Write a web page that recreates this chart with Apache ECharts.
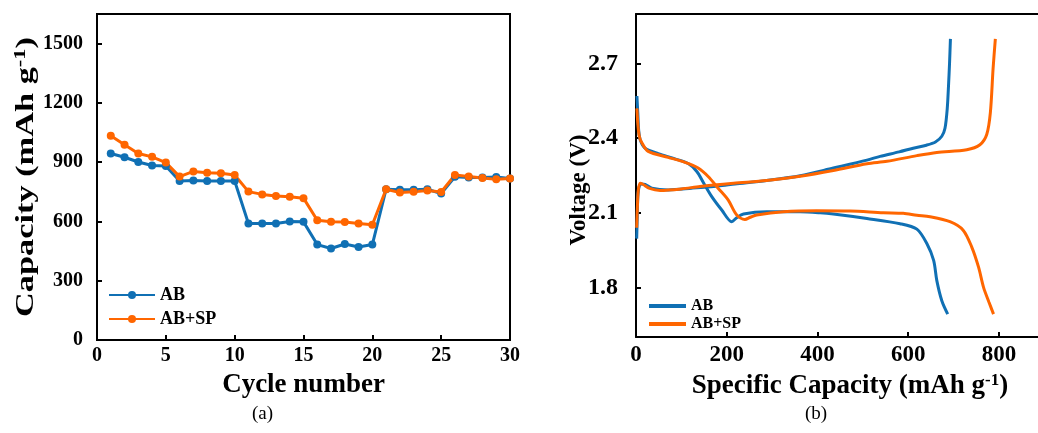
<!DOCTYPE html>
<html><head><meta charset="utf-8">
<script src="https://cdn.jsdelivr.net/npm/echarts@6/dist/echarts.min.js"></script>
<style>html,body{margin:0;padding:0;background:#fff}#c{width:1038px;height:433px}</style>
</head><body><div id="c"></div>
<script>
// ---- Panel (a): rate capability ----
const cycles = [1,2,3,4,5,6,7,8,9,10,11,12,13,14,15,16,17,18,19,20,21,22,23,24,25,26,27,28,29,30];
const abCapacity = [944,925,901,883,881,805,807,805,805,805,590,590,590,600,598,483,463,486,471,483,763,760,760,763,741,826,822,823,825,818];
const abspCapacity = [1034,988,944,927,898,827,853,847,844,835,751,737,729,725,718,606,598,597,590,583,763,746,750,757,749,835,827,820,813,818];
const capTicks = [0,300,600,900,1200,1500];
const cycleTicks = [0,5,10,15,20,25,30];

// ---- Panel (b): voltage profiles ----
const abDisX = [2,4,6,10,20,49,86,115,134,149,167,189,211,222,237,288,362,406,435,509,582,619,641,656,663,674,687];
const abDisV = [2.57,2.50,2.43,2.39,2.36,2.338,2.317,2.298,2.266,2.22,2.165,2.111,2.064,2.08,2.095,2.104,2.104,2.10,2.095,2.077,2.056,2.034,1.976,1.908,1.827,1.746,1.692];
const abChgX = [1.5,3,4,7,12,20,35,71,123,181,218,288,362,435,509,538,580,611,640,660,674,681,686,689,691,693];
const abChgV = [1.996,2.10,2.165,2.205,2.216,2.214,2.199,2.192,2.199,2.208,2.216,2.23,2.249,2.28,2.312,2.327,2.345,2.36,2.372,2.385,2.408,2.44,2.52,2.62,2.70,2.80];
const abspDisX = [2,4,7,12,27,71,108,137,159,181,203,222,240,252,266,325,398,472,545,589,619,648,692,721,740,755,766,778,788];
const abspDisV = [2.52,2.46,2.41,2.385,2.347,2.323,2.303,2.28,2.246,2.199,2.152,2.091,2.073,2.082,2.091,2.104,2.108,2.107,2.10,2.098,2.09,2.084,2.064,2.03,1.962,1.881,1.80,1.74,1.692];
const abspChgX = [1.5,3,5,9,15,30,53,100,141,215,288,362,435,509,553,619,663,729,758,773,781,787,792];
const abspChgV = [2.04,2.12,2.19,2.219,2.215,2.198,2.19,2.196,2.206,2.219,2.23,2.247,2.27,2.297,2.307,2.33,2.343,2.354,2.374,2.415,2.503,2.68,2.80];
const voltTicks = [1.8,2.1,2.4,2.7];
const specTicks = [0,200,400,600,800];

const BLUE = '#1070B4', ORANGE = '#FF6600';
const FONT = '"Liberation Serif", "Times New Roman", serif';
const zip = (xs, ys) => xs.map((x, i) => [x, ys[i]]);

const chart = echarts.init(document.getElementById('c'), null, {renderer: 'canvas'});
const axisCommon = {
  axisLine: {show: true, onZero: false, lineStyle: {color: '#000', width: 2}},
  axisTick: {show: true, inside: true, length: 5, lineStyle: {color: '#000', width: 2}},
  splitLine: {show: false}
};
chart.setOption({
  animation: false,
  grid: [
    {left: 97, right: 528, top: 14, bottom: 93, show: true, borderColor: '#000', borderWidth: 2},
    {left: 636, right: 0, top: 14, bottom: 96, show: false}
  ],
  legend: [
    {data: ['AB', 'AB+SP'], orient: 'vertical', left: 103, top: 281, itemWidth: 46, itemHeight: 10, itemGap: 6,
     textStyle: {fontFamily: FONT, fontWeight: 'bold', fontSize: 18, color: '#000'}},
    {data: ['AB ', 'AB+SP '], orient: 'vertical', left: 644, top: 293, itemWidth: 37, itemHeight: 4, itemGap: 2,
     icon: 'rect', textStyle: {fontFamily: FONT, fontWeight: 'bold', fontSize: 16, color: '#000'}}
  ],
  xAxis: [
    Object.assign({}, axisCommon, {
      gridIndex: 0, type: 'value', min: 0, max: 30, interval: 5,
      axisLabel: {customValues: cycleTicks, margin: 6, fontFamily: FONT, fontWeight: 'bold', fontSize: 20, color: '#000'},
      axisTick: Object.assign({}, axisCommon.axisTick, {customValues: cycleTicks}),
      name: 'Cycle number', nameLocation: 'middle', nameGap: 32,
      nameTextStyle: {fontFamily: FONT, fontWeight: 'bold', fontSize: 27, color: '#000'}
    }),
    Object.assign({}, axisCommon, {
      gridIndex: 1, type: 'value', min: 0, max: 886,
      axisLabel: {customValues: specTicks, margin: 7, fontFamily: FONT, fontWeight: 'bold', fontSize: 23, color: '#000'},
      axisTick: Object.assign({}, axisCommon.axisTick, {customValues: specTicks}),
      name: '{a|Specific Capacity (mAh g}{s|-1}{a|)}', nameLocation: 'middle', nameGap: 34, nameTextStyle: {
        padding: [0, 0, 0, 26],
        rich: {
          a: {fontFamily: FONT, fontWeight: 'bold', fontSize: 27, color: '#000'},
          s: {fontFamily: FONT, fontWeight: 'bold', fontSize: 17, color: '#000', verticalAlign: 'top', padding: [0,0,12,0]}
        }}
    }),
    {gridIndex: 1, type: 'value', min: 0, max: 886, position: 'top',
     axisLine: {show: true, lineStyle: {color: '#000', width: 2}}, axisTick: {show: false}, axisLabel: {show: false}, splitLine: {show: false}}
  ],
  yAxis: [
    Object.assign({}, axisCommon, {
      gridIndex: 0, type: 'value', min: 0, max: 1650,
      axisLabel: {customValues: capTicks, margin: 14, fontFamily: FONT, fontWeight: 'bold', fontSize: 20, color: '#000',
        formatter: v => String(v)},
      axisTick: Object.assign({}, axisCommon.axisTick, {customValues: capTicks})
    }),
    Object.assign({}, axisCommon, {
      gridIndex: 1, type: 'value', min: 1.6, max: 2.9,
      axisLabel: {customValues: voltTicks, margin: 18, fontFamily: FONT, fontWeight: 'bold', fontSize: 24, color: '#000',
        formatter: v => v.toFixed(1)},
      axisTick: Object.assign({}, axisCommon.axisTick, {customValues: voltTicks})
    })
  ],
  series: [
    {name: 'AB', type: 'line', xAxisIndex: 0, yAxisIndex: 0, data: zip(cycles, abCapacity),
     symbol: 'circle', symbolSize: 8, itemStyle: {color: BLUE}, lineStyle: {color: BLUE, width: 3}},
    {name: 'AB+SP', type: 'line', xAxisIndex: 0, yAxisIndex: 0, data: zip(cycles, abspCapacity),
     symbol: 'circle', symbolSize: 8, itemStyle: {color: ORANGE}, lineStyle: {color: ORANGE, width: 3}},
    {name: 'AB ', type: 'line', xAxisIndex: 1, yAxisIndex: 1, data: zip(abDisX, abDisV), smooth: 0.3,
     showSymbol: false, symbol: 'none', itemStyle: {color: BLUE}, lineStyle: {color: BLUE, width: 3}},
    {name: 'AB ', type: 'line', xAxisIndex: 1, yAxisIndex: 1, data: zip(abChgX, abChgV), smooth: 0.3,
     showSymbol: false, symbol: 'none', itemStyle: {color: BLUE}, lineStyle: {color: BLUE, width: 3}},
    {name: 'AB+SP ', type: 'line', xAxisIndex: 1, yAxisIndex: 1, data: zip(abspDisX, abspDisV), smooth: 0.3,
     showSymbol: false, symbol: 'none', itemStyle: {color: ORANGE}, lineStyle: {color: ORANGE, width: 3}},
    {name: 'AB+SP ', type: 'line', xAxisIndex: 1, yAxisIndex: 1, data: zip(abspChgX, abspChgV), smooth: 0.3,
     showSymbol: false, symbol: 'none', itemStyle: {color: ORANGE}, lineStyle: {color: ORANGE, width: 3}}
  ],
  graphic: [
    {type: 'text', x: 26, y: 177, rotation: Math.PI / 2, scaleX: 1.32, scaleY: 1,
     style: {text: '{a|Capacity (mAh g}{s|-1}{a|)}', align: 'center', verticalAlign: 'middle',
       rich: {
         a: {fontFamily: FONT, fontWeight: 'bold', fontSize: 26, fill: '#000'},
         s: {fontFamily: FONT, fontWeight: 'bold', fontSize: 17, fill: '#000', verticalAlign: 'top', padding: [0,0,11,0]}
       }}},
    {type: 'text', x: 579, y: 190, rotation: Math.PI / 2,
     style: {text: 'Voltage (V)', align: 'center', verticalAlign: 'middle',
       font: 'bold 23px ' + FONT, fill: '#000'}},
    {type: 'text', left: 252, top: 405, style: {text: '(a)', font: '19px ' + FONT, fill: '#000'}},
    {type: 'text', left: 805, top: 405, style: {text: '(b)', font: '19px ' + FONT, fill: '#000'}}
  ]
});
</script></body></html>
